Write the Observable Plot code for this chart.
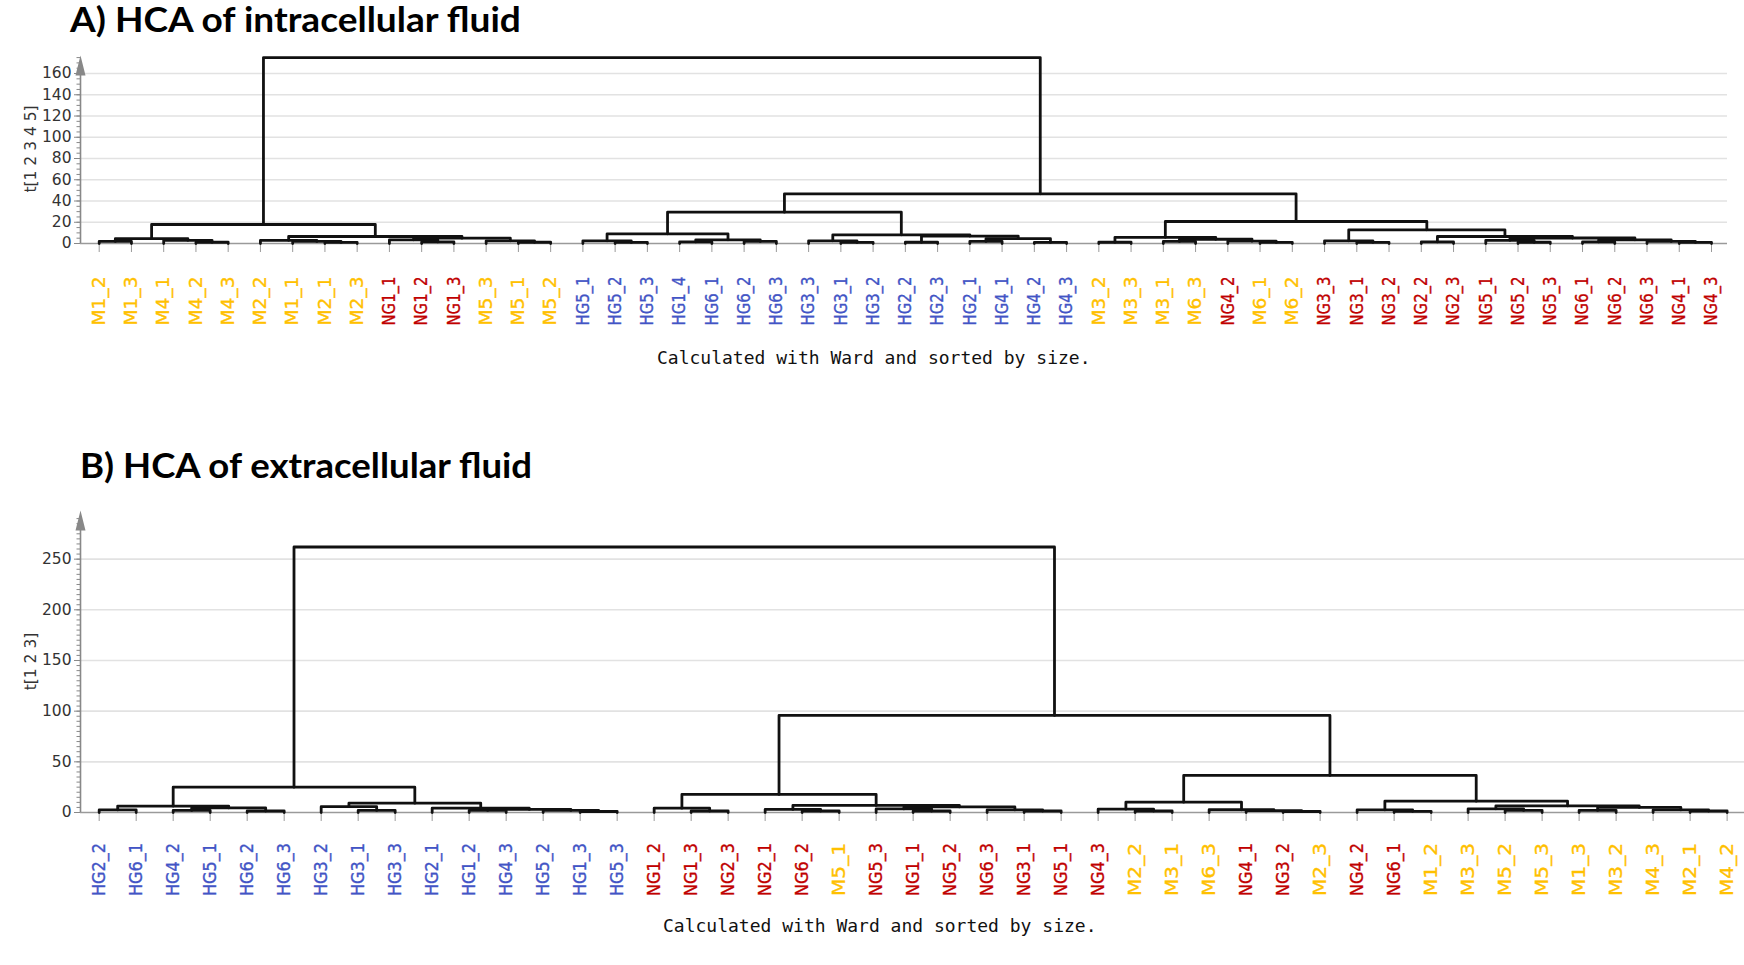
<!DOCTYPE html>
<html><head><meta charset="utf-8">
<script src="https://cdn.jsdelivr.net/npm/d3@7"></script>
<script src="https://cdn.jsdelivr.net/npm/@observablehq/plot@0.6"></script>
<style>
body{margin:0;background:#fff;width:1744px;height:965px;position:relative;overflow:hidden;}
.title{position:absolute;font-family:Lato, sans-serif;font-weight:bold;font-size:34px;line-height:34px;color:#000;white-space:nowrap;transform:scaleX(1.09);transform-origin:0 0;}
.cap{position:absolute;font-family:"DejaVu Sans Mono", monospace;font-size:18px;line-height:18px;color:#111;white-space:nowrap;}
#a,#b{position:absolute;left:0;}
</style></head><body>
<div class="title" style="left:70px;top:2px">A) HCA of intracellular fluid</div>
<div id="a" style="top:40px"></div>
<div class="cap" style="left:657px;top:349px">Calculated with Ward and sorted by size.</div>
<div class="title" style="left:80px;top:448px;transform:scaleX(1.075)">B) HCA of extracellular fluid</div>
<div id="b" style="top:495px"></div>
<div class="cap" style="left:663px;top:917px">Calculated with Ward and sorted by size.</div>
<script>
// ---------- Panel A: leaves (tick labels) ----------
const leavesA = ["M1_2","M1_3","M4_1","M4_2","M4_3","M2_2","M1_1","M2_1","M2_3","NG1_1","NG1_2","NG1_3","M5_3","M5_1","M5_2",
  "HG5_1","HG5_2","HG5_3","HG1_4","HG6_1","HG6_2","HG6_3","HG3_3","HG3_1","HG3_2","HG2_2","HG2_3","HG2_1","HG4_1","HG4_2","HG4_3",
  "M3_2","M3_3","M3_1","M6_3","NG4_2","M6_1","M6_2",
  "NG3_3","NG3_1","NG3_2","NG2_2","NG2_3","NG5_1","NG5_2","NG5_3","NG6_1","NG6_2","NG6_3","NG4_1","NG4_3"];
// merges: [left, right, height]
const a_M1  = ["M1_2","M1_3",2.0];
const a_M4  = ["M4_1",["M4_2","M4_3",1.2],3.0];
const a_MA  = [a_M1, a_M4, 4.5];
const a_M2  = ["M2_2",["M1_1",["M2_1","M2_3",1.0],2.0],3.0];
const a_NG1 = ["NG1_1",["NG1_2","NG1_3",1.5],3.5];
const a_M5  = ["M5_3",["M5_1","M5_2",1.2],2.5];
const a_NM  = [a_NG1, a_M5, 5.0];
const a_MB  = [a_M2, a_NM, 6.6];
const a_left = [a_MA, a_MB, 17.9];
const a_HG5  = ["HG5_1",["HG5_2","HG5_3",1.0],2.5];
const a_HG16 = [["HG1_4","HG6_1",1.5],["HG6_2","HG6_3",2.0],3.5];
const a_HGa  = [a_HG5, a_HG16, 9.1];
const a_HG3  = ["HG3_3",["HG3_1","HG3_2",1.0],2.5];
const a_HG24 = [["HG2_2","HG2_3",1.2],[["HG2_1","HG4_1",2.0],["HG4_2","HG4_3",1.0],4.5],7.0];
const a_HGb  = [a_HG3, a_HG24, 8.2];
const a_HG   = [a_HGa, a_HGb, 29.5];
const a_M36  = [["M3_2","M3_3",1.2],[["M3_1","M6_3",2.0],["NG4_2",["M6_1","M6_2",1.0],2.2],4.0],5.8];
const a_NG3  = ["NG3_3",["NG3_1","NG3_2",1.0],2.5];
const a_NG56 = [["NG5_1",["NG5_2","NG5_3",1.2],3.0],[["NG6_1","NG6_2",1.5],["NG6_3",["NG4_1","NG4_3",1.0],2.0],3.5],5.2];
const a_NGr  = [["NG2_2","NG2_3",1.5], a_NG56, 6.6];
const a_NGb  = [a_NG3, a_NGr, 12.9];
const a_right2 = [a_M36, a_NGb, 20.7];
const a_right  = [a_HG, a_right2, 46.8];
const treeA = [a_left, a_right, 175];
const yMajorA = [0,20,40,60,80,100,120,140,160];
const gridA = [20,40,60,80,100,120,140,160];

// ---------- Panel B ----------
const leavesB = ["HG2_2","HG6_1","HG4_2","HG5_1","HG6_2","HG6_3","HG3_2","HG3_1","HG3_3","HG2_1","HG1_2","HG4_3","HG5_2","HG1_3","HG5_3",
  "NG1_2","NG1_3","NG2_3","NG2_1","NG6_2","M5_1","NG5_3","NG1_1","NG5_2","NG6_3","NG3_1","NG5_1","NG4_3",
  "M2_2","M3_1","M6_3","NG4_1","NG3_2","M2_3","NG4_2","NG6_1",
  "M1_2","M3_3","M5_2","M5_3","M1_3","M3_2","M4_3","M2_1","M4_2"];
const b_1 = [["HG2_2","HG6_1",2.5],[["HG4_2","HG5_1",2.0],["HG6_2","HG6_3",1.5],4.5],6.3];
const b_2 = [["HG3_2",["HG3_1","HG3_3",2.0],5.7],["HG2_1",[["HG1_2","HG4_3",2.0],["HG5_2",["HG1_3","HG5_3",1.0],2.0],3.0],4.3],9.2];
const b_left = [b_1, b_2, 25];
const b_3 = ["NG1_2",["NG1_3","NG2_3",1.5],4.3];
const b_4 = [["NG2_1",["NG6_2","M5_1",1.5],3.0],[["NG5_3",["NG1_1","NG5_2",1.5],3.5],["NG6_3",["NG3_1","NG5_1",1.5],2.5],5.5],7.0];
const b_NG = [b_3, b_4, 17.8];
const b_5 = [["NG4_3",["M2_2","M3_1",1.5],3.3],["M6_3",["NG4_1",["NG3_2","M2_3",1.0],1.8],2.7],10.2];
const b_6 = [["NG4_2",["NG6_1","M1_2",1.2],2.5],[["M3_3",["M5_2","M5_3",2.0],3.6],[["M1_3","M3_2",2.0],["M4_3",["M2_1","M4_2",1.5],2.5],5.0],6.5],11.2];
const b_R = [b_5, b_6, 36.6];
const b_right = [b_NG, b_R, 95.8];
const treeB = [b_left, b_right, 262];
const yMajorB = [0,50,100,150,200,250];
const gridB = [50,100,150,200,250];

// ---------- drawing ----------
const colorOf = d => d.startsWith("NG") ? "#C00000" : d.startsWith("HG") ? "#4254C5" : "#FFC000";
const arrow = {draw(ctx) { ctx.moveTo(0,-11); ctx.lineTo(5,9); ctx.lineTo(-5,9); ctx.closePath(); }};

function layout(tree, leaves) {
  const segs = []; let k = 0;
  function walk(n) {
    if (typeof n === "string") return {x: leaves.indexOf(n), h: 0};
    const L = walk(n[0]), R = walk(n[1]), h = n[2], id = k++;
    segs.push({id, x: L.x, y: L.h}, {id, x: L.x, y: h}, {id, x: R.x, y: h}, {id, x: R.x, y: R.h});
    return {x: (L.x + R.x) / 2, h};
  }
  walk(tree);
  return segs;
}

function panel(o) {
  const segs = layout(o.tree, o.leaves);
  const x0 = o.xDomain[0];
  const svg = Plot.plot({
    width: 1744, height: o.height,
    marginLeft: 80, marginRight: o.mr, marginTop: o.mt, marginBottom: o.mb,
    x: {type: "linear", domain: o.xDomain},
    y: {type: "linear", domain: o.yDomain},
    color: {type: "identity"},
    style: {fontFamily: "'DejaVu Sans', sans-serif", fontSize: "15px", background: "white", color: "#333", overflow: "visible"},
    marks: [
      Plot.ruleY(o.grid, {stroke: "#e2e2e2", strokeWidth: 1.6}),
      Plot.ruleY([0], {stroke: "#9a9a9a", strokeWidth: 1.6}),
      Plot.axisX(o.leaves.map((d, i) => i), {tickSize: 9, tickFormat: () => "", label: null, stroke: "#9a9a9a"}),
      Plot.ruleX([x0], {y1: 0, y2: o.arrowY, stroke: "#888", strokeWidth: 1.6}),
      Plot.axisY(d3.range(0, o.minorMax, 5), {tickSize: 3.5, tickFormat: () => "", label: null, stroke: "#888"}),
      Plot.axisY(o.major, {tickSize: 6, tickPadding: 3, label: null, stroke: "#888", fill: "#333", fontSize: 15.5}),
      Plot.dot([{x: x0, y: o.arrowY}], {x: "x", y: "y", symbol: arrow, r: 5, fill: "#888", stroke: "none"}),
      Plot.line(segs, {x: "x", y: "y", z: "id", stroke: "#111", strokeWidth: 2.8, strokeLinejoin: "round"}),
      Plot.text(o.leaves, {x: (d, i) => i, text: d => d, fill: d => colorOf(d), stroke: d => colorOf(d), strokeWidth: 0.35,
        frameAnchor: "bottom", rotate: -90, textAnchor: "middle", lineAnchor: "middle", dy: o.labelDy, fontSize: 18}),
      Plot.text([o.yLabel], {frameAnchor: "left", text: d => d, rotate: -90, textAnchor: "middle", lineAnchor: "middle",
        dx: -49, fill: "#333", fontSize: 15.5})
    ]
  });
  const g = svg.querySelectorAll('g[aria-label="text"]')[0];
  if (g) g.querySelectorAll("text").forEach(t => {
    t.setAttribute("textLength", o.labelLen);
    t.setAttribute("lengthAdjust", "spacingAndGlyphs");
  });
  return svg;
}

document.getElementById("a").append(panel({
  leaves: leavesA, tree: treeA, height: 300, mt: 13.9, mb: 97, mr: 17,
  xDomain: [-0.58, 50.496], yDomain: [0, 178], major: yMajorA, grid: gridA,
  minorMax: 176, arrowY: 166.6, labelDy: 57.5, labelLen: 49, yLabel: "t[1 2 3 4 5]"
}));
document.getElementById("b").append(panel({
  leaves: leavesB, tree: treeB, height: 407, mt: 15, mb: 90, mr: 0,
  xDomain: [-0.505, 44.47], yDomain: [0, 298], major: yMajorB, grid: gridB,
  minorMax: 291, arrowY: 287.1, labelDy: 57, labelLen: 53, yLabel: "t[1 2 3]"
}));
</script>
</body></html>
